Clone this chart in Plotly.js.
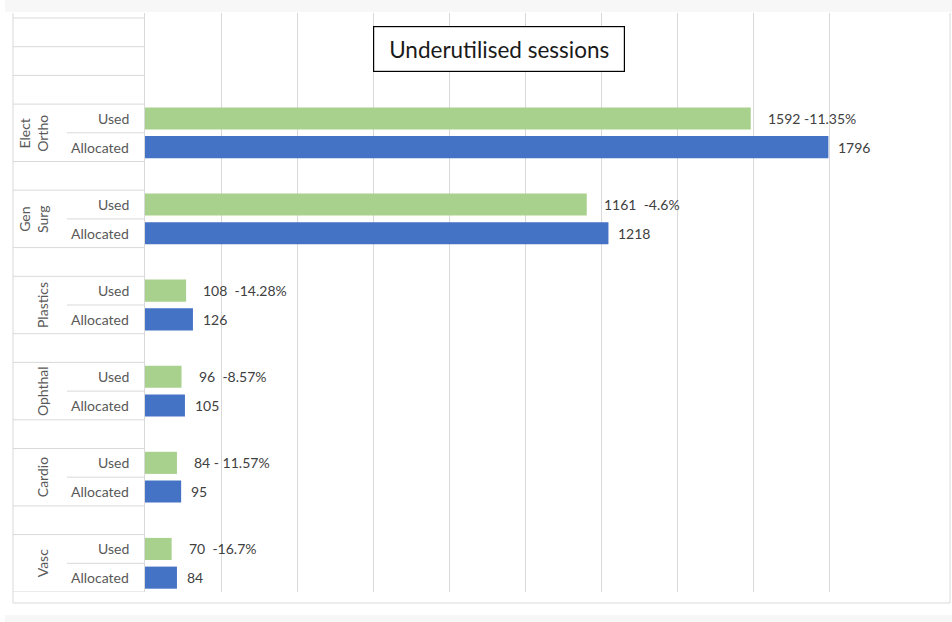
<!DOCTYPE html>
<html>
<head>
<meta charset="utf-8">
<script src="https://cdn.plot.ly/plotly-3.0.1.min.js"></script>
<style>
  html, body { margin: 0; padding: 0; background: #ffffff; }
  #chart { width: 952px; height: 622px; }
</style>
</head>
<body>
<div id="chart"></div>
<script>
// ---- data ----
const groups = ['Elect Ortho', 'Gen Surg', 'Plastics', 'Ophthal', 'Cardio', 'Vasc'];
const seriesNames = ['Used', 'Allocated'];
const used = [1592, 1161, 108, 96, 84, 70];
const allocated = [1796, 1218, 126, 105, 95, 84];
const usedLabels = ['1592 -11.35%', '1161  -4.6%', '108  -14.28%', '96  -8.57%', '84 - 11.57%', '70  -16.7%'];
const chartTitle = 'Underutilised sessions';
const xMax = 2000, xStep = 200;

// ---- layout helpers ----
const W = 952, H = 622;
const L = 145, R = 906, T = 13, B = 592;
const px = x => (x - L) / (R - L);        // pixel x -> paper x
const py = y => (B - y) / (B - T);        // pixel y -> paper y

const n = groups.length;
const rowsPerGroup = 3;
const totalRows = n * rowsPerGroup + 2;   // extra empty rows on top
const allocY = groups.map((g, i) => (n - 1 - i) * rowsPerGroup);
const usedY = allocY.map(v => v + 1);
const rowPx = (B - 18) / totalRows;
const yTop = -0.5 + (B - T) / rowPx;

const GREEN = '#A9D18E', BLUE = '#4472C4';
const GRID = '#d9d9d9', LABEL = '#595959', DATA = '#404040';
const FONT = 'Lato, "Open Sans", sans-serif';
const FS = 14;
const nb = s => s.replace(/ /g, '\u00a0');

const traces = [
  { type: 'bar', orientation: 'h', name: seriesNames[0], x: used, y: usedY,
    width: 0.77, marker: { color: GREEN, line: { width: 0 } }, hoverinfo: 'skip' },
  { type: 'bar', orientation: 'h', name: seriesNames[1], x: allocated, y: allocY,
    width: 0.77, marker: { color: BLUE, line: { width: 0 } }, hoverinfo: 'skip' }
];

const shapes = [];
const annotations = [];

// background strips and chart border
shapes.push({ type: 'rect', xref: 'paper', yref: 'paper', x0: px(5), x1: px(W), y0: py(0), y1: py(12),
  fillcolor: '#f7f7f7', line: { width: 0 }, layer: 'below' });
shapes.push({ type: 'rect', xref: 'paper', yref: 'paper', x0: px(5), x1: px(W), y0: py(615), y1: py(H),
  fillcolor: '#f7f7f7', line: { width: 0 }, layer: 'below' });
shapes.push({ type: 'line', xref: 'paper', yref: 'paper', x0: px(13), x1: px(13), y0: py(13), y1: py(603), line: { color: GRID, width: 1 } });
shapes.push({ type: 'line', xref: 'paper', yref: 'paper', x0: px(13), x1: px(950), y0: py(603), y1: py(603), line: { color: GRID, width: 1 } });
shapes.push({ type: 'line', xref: 'paper', yref: 'paper', x0: px(950), x1: px(950), y0: py(13), y1: py(603), line: { color: GRID, width: 1 } });

// category table lines
for (let k = 0; k <= totalRows; k++) {
  const yb = k - 0.5;
  const within = (k % rowsPerGroup === 1) && k < n * rowsPerGroup;
  shapes.push({ type: 'line', xref: 'paper', yref: 'y', x0: px(within ? 67 : 13), x1: 0, y0: yb, y1: yb,
    line: { color: GRID, width: 1 } });
}

// category labels
groups.forEach((g, i) => {
  const two = g.indexOf(' ') > -1;
  annotations.push({ xref: 'paper', yref: 'y', x: px(two ? 34 : 42), y: allocY[i] + 0.5,
    text: g.replace(' ', '<br>'), textangle: -90, showarrow: false,
    font: { family: FONT, size: FS, color: LABEL }, xanchor: 'center', yanchor: 'middle' });
  annotations.push({ xref: 'paper', yref: 'y', x: px(131), y: usedY[i], text: seriesNames[0],
    showarrow: false, xanchor: 'right', font: { family: FONT, size: FS, color: LABEL } });
  annotations.push({ xref: 'paper', yref: 'y', x: px(131), y: allocY[i], text: seriesNames[1],
    showarrow: false, xanchor: 'right', font: { family: FONT, size: FS, color: LABEL } });
  // data labels
  annotations.push({ xref: 'x', yref: 'y', x: used[i], y: usedY[i], text: nb(usedLabels[i]),
    xanchor: 'left', xshift: 15, showarrow: false, font: { family: FONT, size: FS, color: DATA } });
  annotations.push({ xref: 'x', yref: 'y', x: allocated[i], y: allocY[i], text: String(allocated[i]),
    xanchor: 'left', xshift: 8, showarrow: false, font: { family: FONT, size: FS, color: DATA } });
});

// title box
annotations.push({ xref: 'paper', yref: 'paper', x: px(499), y: py(49), text: chartTitle,
  showarrow: false, xanchor: 'center', yanchor: 'middle', width: 250, height: 44,
  bordercolor: '#000000', borderwidth: 1.2, borderpad: 0, bgcolor: '#ffffff',
  font: { family: FONT, size: 22.5, color: '#1a1a1a' } });

const layout = {
  width: W, height: H,
  margin: { l: L, r: W - R, t: T, b: H - B, pad: 0 },
  paper_bgcolor: '#ffffff', plot_bgcolor: '#ffffff',
  showlegend: false, barmode: 'overlay',
  xaxis: { range: [0, xMax], dtick: xStep, tick0: 0, showgrid: true, gridcolor: GRID, gridwidth: 1,
    zeroline: false, showline: false, showticklabels: false, ticks: '', fixedrange: true },
  yaxis: { range: [-0.5, yTop], showgrid: false, zeroline: false, showline: true, linecolor: GRID,
    linewidth: 1, showticklabels: false, ticks: '', fixedrange: true },
  shapes: shapes, annotations: annotations
};

Plotly.newPlot('chart', traces, layout, { displayModeBar: false, staticPlot: true });
</script>
</body>
</html>
